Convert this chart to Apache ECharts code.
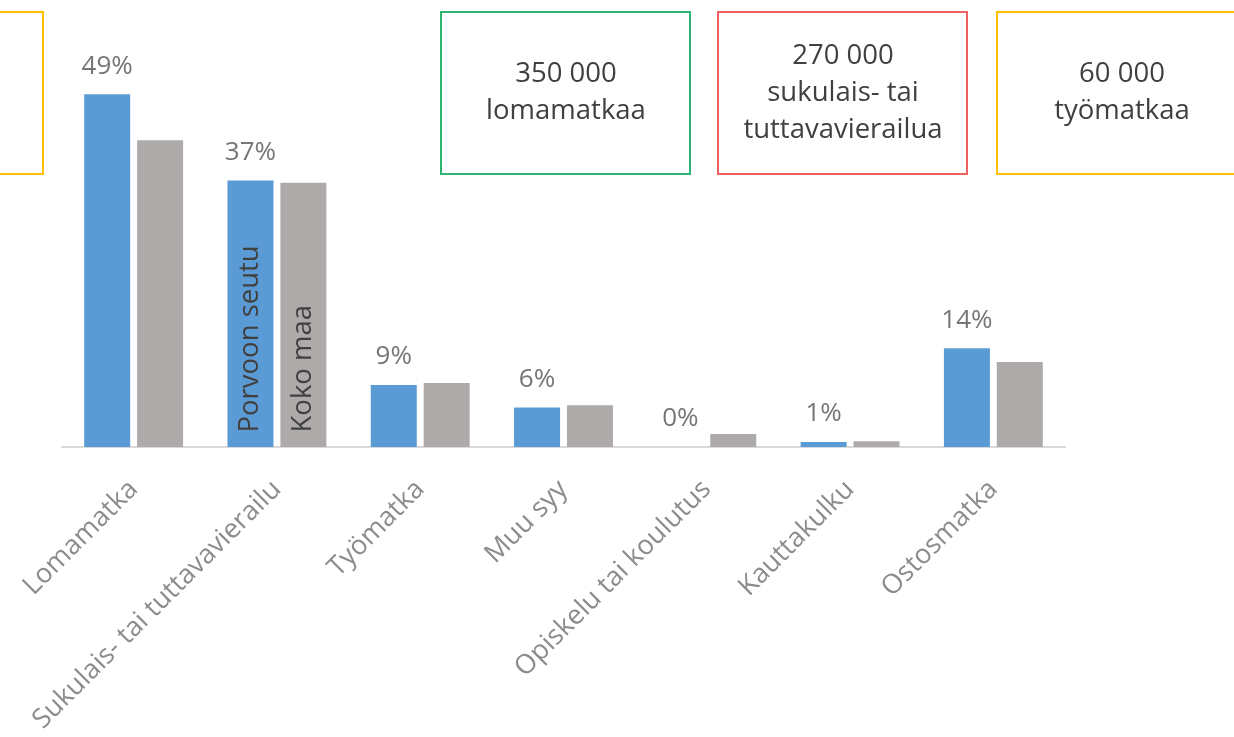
<!DOCTYPE html>
<html>
<head>
<meta charset="utf-8">
<script src="https://cdn.jsdelivr.net/npm/echarts@6/dist/echarts.min.js"></script>
<style>
html, body { margin: 0; padding: 0; background: #fff; }
#main { width: 1234px; height: 737px; }
</style>
</head>
<body>
<div id="main"></div>
<script>
// matkan syy, osuudet prosentteina
var categories = ['Lomamatka', 'Sukulais- tai tuttavavierailu', 'Työmatka', 'Muu syy', 'Opiskelu tai koulutus', 'Kauttakulku', 'Ostosmatka'];
var seriesNames = ['Porvoon seutu', 'Koko maa'];
var porvoo = [49, 37, 8.6, 5.5, 0, 0.7, 13.7];
var kokoMaa = [42.6, 36.7, 8.9, 5.8, 1.8, 0.8, 11.8];
var boxTexts = ['', '350 000\nlomamatkaa', '270 000\nsukulais- tai\ntuttavavierailua', '60 000\ntyömatkaa'];

var font = '"Open Sans", "Noto Sans", sans-serif';

// laatikot ylhäällä
var boxes = [
    {x: -200, w: 243, color: '#FFC000'},
    {x: 441, w: 249, color: '#2DB572'},
    {x: 718, w: 249, color: '#F06262'},
    {x: 997, w: 260, color: '#FFC000'}
];
var graphic = [];
boxes.forEach(function (b, i) {
    graphic.push({
        type: 'rect',
        shape: {x: b.x, y: 12, width: b.w, height: 162},
        style: {fill: 'none', stroke: b.color, lineWidth: 2}
    });
    graphic.push({
        type: 'text',
        style: {
            text: boxTexts[i],
            x: b.x + 125, y: 93,
            align: 'center', verticalAlign: 'middle',
            fontSize: 27.5, fontFamily: font, lineHeight: 37,
            fill: '#404040'
        }
    });
});

function nameMark(name) {
    return {
        symbol: 'rect',
        symbolSize: 1,
        silent: true,
        itemStyle: {color: 'rgba(0,0,0,0)'},
        label: {
            show: true, position: 'top', rotate: 90,
            align: 'left', verticalAlign: 'middle', distance: 14,
            color: '#404040', fontSize: 27.5, fontFamily: font,
            formatter: name
        },
        data: [{coord: [categories[1], 0]}]
    };
}

var main = echarts.init(document.getElementById('main'));

var option = {
    animation: false,
    grid: {left: 62, right: 169, top: 15, bottom: 290},
    graphic: graphic,
    xAxis: {
        type: 'category',
        data: categories,
        axisLine: {lineStyle: {color: '#D9D9D9', width: 2}},
        axisTick: {show: false},
        axisLabel: {
            rotate: 45, interval: 0, margin: 38,
            color: '#8C8C8C', fontSize: 27, fontFamily: font
        }
    },
    yAxis: {
        type: 'value', min: 0, max: 60,
        show: false,
        splitLine: {show: false}
    },
    series: [
        {
            name: seriesNames[0],
            type: 'bar',
            data: porvoo,
            barWidth: 46,
            barGap: '15%',
            itemStyle: {color: '#5B9BD5'},
            label: {
                show: true, position: 'top', distance: 15,
                color: '#767676', fontSize: 26, fontFamily: font,
                formatter: function (p) { return Math.round(p.value) + '%'; }
            },
            markPoint: nameMark(seriesNames[0])
        },
        {
            name: seriesNames[1],
            type: 'bar',
            data: kokoMaa,
            barWidth: 46,
            barGap: '15%',
            itemStyle: {color: '#AEAAAA'},
            markPoint: nameMark(seriesNames[1])
        }
    ]
};

main.setOption(option);
</script>
</body>
</html>
